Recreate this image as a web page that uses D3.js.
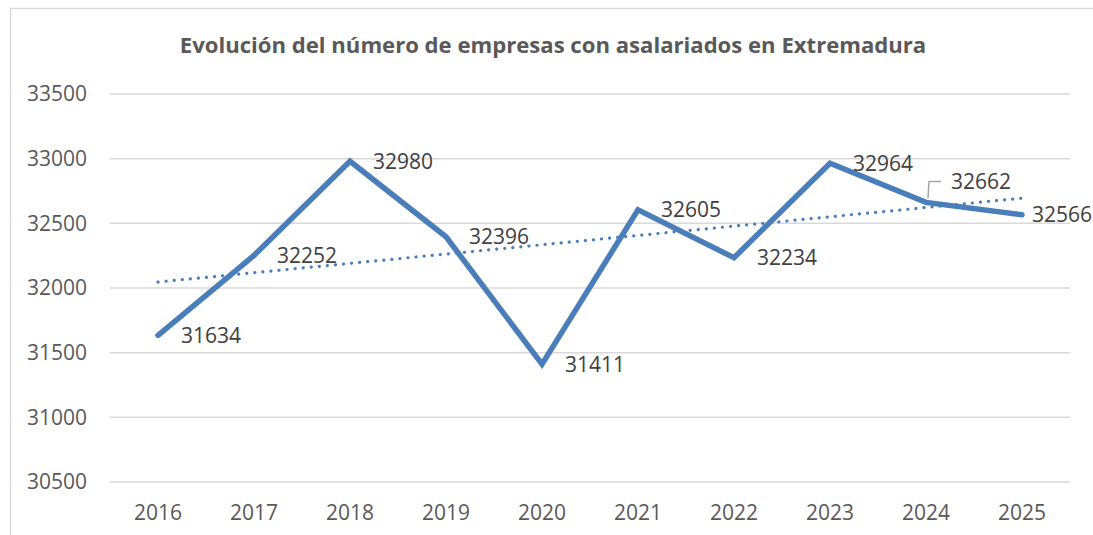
<!DOCTYPE html>
<html>
<head>
<meta charset="utf-8">
<script src="https://cdn.jsdelivr.net/npm/d3@7"></script>
<style>
  body { margin: 0; background: #fff; }
  svg text { font-family: "Open Sans", "Liberation Sans", sans-serif; }
</style>
</head>
<body>
<svg id="chart"></svg>
<script>
// data
var years = ["2016", "2017", "2018", "2019", "2020", "2021", "2022", "2023", "2024", "2025"];
var empresas = [31634, 32252, 32980, 32396, 31411, 32605, 32234, 32964, 32662, 32566];
var yTicks = [30500, 31000, 31500, 32000, 32500, 33000, 33500];
var title = "Evolución del número de empresas con asalariados en Extremadura";

var width = 1093;
var height = 535;
var blue = "#4a7ebb";

var svg = d3.select("#chart")
    .attr("width", width)
    .attr("height", height);

// chart frame (cut off at right and bottom in the picture)
svg.append("rect")
    .attr("x", 10.5)
    .attr("y", 8.5)
    .attr("width", 1100)
    .attr("height", 560)
    .attr("fill", "none")
    .attr("stroke", "#d9d9d9")
    .attr("stroke-width", 1.5);

var plot = {left: 110, right: 1070, top: 94, bottom: 482};

var x = d3.scaleBand()
    .domain(years)
    .range([plot.left, plot.right]);

var y = d3.scaleLinear()
    .domain([30500, 33500])
    .range([plot.bottom, plot.top]);

var xc = function(d) { return x(d) + x.bandwidth() / 2; };

// gridlines
svg.append("g")
    .selectAll("line")
    .data(yTicks)
    .enter()
    .append("line")
    .attr("x1", plot.left)
    .attr("x2", plot.right)
    .attr("y1", function(d) { return y(d); })
    .attr("y2", function(d) { return y(d); })
    .attr("stroke", "#d9d9d9")
    .attr("stroke-width", 1.5);

// y axis labels
var yAxis = d3.axisLeft(y).tickValues(yTicks).tickSize(0).tickPadding(23).tickFormat(d3.format("d"));
var gy = svg.append("g")
    .attr("transform", "translate(" + plot.left + ",0)")
    .call(yAxis);
gy.select(".domain").remove();
gy.selectAll("text")
    .attr("font-size", 21)
    .attr("fill", "#595959")
    .style("font-family", "'Open Sans', sans-serif");

// x axis labels
var xAxis = d3.axisBottom(x).tickSize(0).tickPadding(23);
var gx = svg.append("g")
    .attr("transform", "translate(0," + plot.bottom + ")")
    .call(xAxis);
gx.select(".domain").remove();
gx.selectAll("text")
    .attr("font-size", 21)
    .attr("fill", "#595959")
    .style("font-family", "'Open Sans', sans-serif");

// linear trendline (least squares, like the spreadsheet trendline)
var n = empresas.length;
var mx = d3.mean(d3.range(n));
var my = d3.mean(empresas);
var sxy = d3.sum(empresas, function(v, i) { return (i - mx) * (v - my); });
var sxx = d3.sum(d3.range(n), function(i) { return (i - mx) * (i - mx); });
var slope = sxy / sxx;
var trendAt = function(i) { return my + slope * (i - mx); };

svg.append("line")
    .attr("x1", xc(years[0]))
    .attr("y1", y(trendAt(0)))
    .attr("x2", xc(years[n - 1]))
    .attr("y2", y(trendAt(n - 1)))
    .attr("stroke", blue)
    .attr("stroke-width", 3.2)
    .attr("stroke-linecap", "round")
    .attr("stroke-dasharray", "0.1 8");

// main series
var line = d3.line()
    .x(function(d, i) { return xc(years[i]); })
    .y(function(d) { return y(d); });

svg.append("path")
    .datum(empresas)
    .attr("d", line)
    .attr("fill", "none")
    .attr("stroke", blue)
    .attr("stroke-width", 5.5)
    .attr("stroke-linejoin", "miter")
    .attr("stroke-linecap", "round");

// data labels, to the right of each point
var labels = svg.append("g");
empresas.forEach(function(v, i) {
    var px = xc(years[i]);
    var py = y(v);
    var lx = px + 23;
    var ly = py + 2;
    if (years[i] == "2024") {
        lx = px + 25;
        ly = py - 19;
        // leader line
        svg.append("polyline")
            .attr("points", [[px + 2, py - 4], [px + 3, py - 21], [px + 15, py - 21]].join(" "))
            .attr("fill", "none")
            .attr("stroke", "#a6a6a6")
            .attr("stroke-width", 1.5);
    }
    if (years[i] == "2025") {
        lx = px + 10;
    }
    labels.append("text")
        .attr("x", lx)
        .attr("y", ly)
        .attr("dominant-baseline", "middle")
        .attr("font-size", 21)
        .attr("fill", "#404040")
        .text(v);
});

// title
var t = svg.append("text")
    .attr("x", 553)
    .attr("y", 53)
    .attr("text-anchor", "middle")
    .attr("font-weight", "bold")
    .attr("font-size", 21)
    .attr("fill", "#595959")
    .text(title);
var tw = t.node().getComputedTextLength();
t.attr("font-size", 21 * 747 / tw);
</script>
</body>
</html>
